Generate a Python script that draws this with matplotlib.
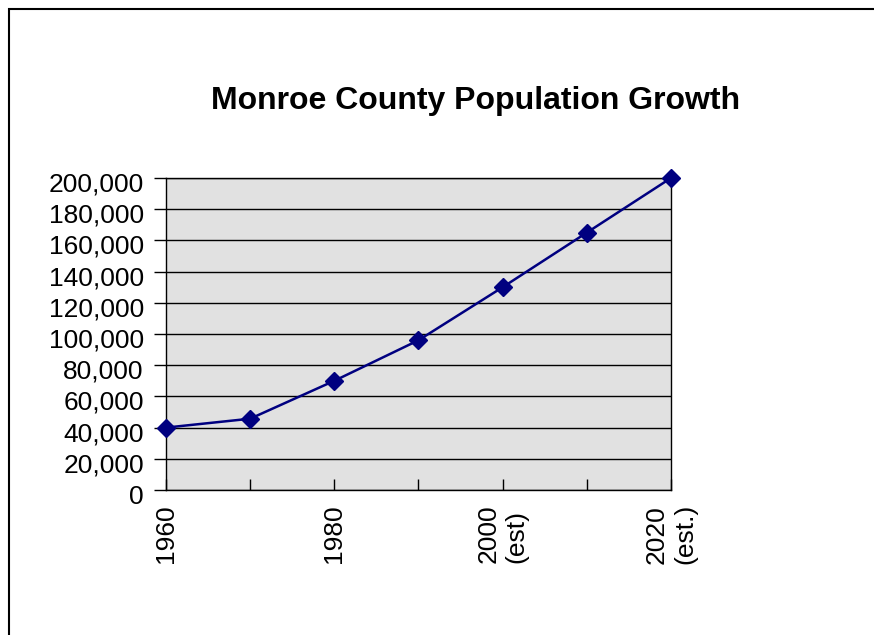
import matplotlib.pyplot as plt
from matplotlib.patches import Rectangle
from matplotlib.ticker import FuncFormatter
from matplotlib.transforms import ScaledTranslation

plt.rcParams['font.family'] = ['Liberation Sans', 'DejaVu Sans']

years = ["1960", "1970", "1980", "1990", "2000\n(est)", "2010", "2020\n(est.)"]
tick_labels = ["1960", "", "1980", "", "2000\n(est)", "", "2020\n(est.)"]
population = [40000, 45700, 70000, 96000, 130000, 165000, 200000]

fig = plt.figure(figsize=(8.74, 6.35), dpi=100)

# outer chart border (only left and top edges show in the picture)
fig.patches.append(Rectangle((8.5 / 874, -0.1), 1.2, (635 - 8.5) / 635 + 0.1,
                             transform=fig.transFigure, fill=False,
                             edgecolor="black", linewidth=1.5))

ax = fig.add_axes([166 / 874, (635 - 490) / 635, (671 - 166) / 874, (490 - 178) / 635])
ax.set_facecolor("#e1e1e1")

x = list(range(len(years)))
ax.plot(x, population, color="#000080", linewidth=1.8, marker="D",
        markersize=9.5, markerfacecolor="#000080", markeredgecolor="#000080",
        clip_on=False, zorder=5)

ax.set_xlim(0, len(years) - 1)
ax.set_ylim(0, 200000)
ax.set_yticks(range(0, 200001, 20000))
ax.yaxis.set_major_formatter(FuncFormatter(lambda v, p: f"{int(v):,}"))
ax.grid(axis="y", color="black", linewidth=1)
ax.set_axisbelow(True)

ax.set_xticks(x)
ax.set_xticklabels(tick_labels, rotation=90, ha="center", va="top",
                   multialignment="left", fontsize=19)
ax.tick_params(axis="x", direction="in", length=8, width=1, pad=10)
ax.tick_params(axis="y", direction="out", length=9, width=1, pad=7, labelsize=19)

# value labels sit a little below their ticks in the original
shift = ScaledTranslation(0, -4 / 100, fig.dpi_scale_trans)
for lab in ax.get_yticklabels():
    lab.set_transform(lab.get_transform() + shift)

for s in ax.spines.values():
    s.set_color("black")
    s.set_linewidth(1)

fig.text(476 / 874, 1 - 101 / 635, "Monroe County Population Growth",
         ha="center", va="center", fontsize=23, fontweight="bold")

fig.savefig("out.png", dpi=100)
